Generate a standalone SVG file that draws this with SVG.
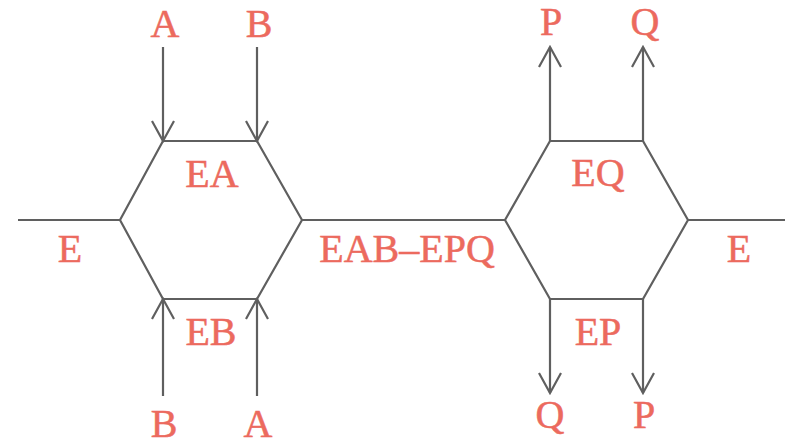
<svg xmlns="http://www.w3.org/2000/svg" width="785" height="446" viewBox="0 0 785 446">
  <style>
    .edge { fill: none; stroke: #5f5f5f; stroke-width: 2.2; stroke-linejoin: round; }
    .arrow { fill: none; stroke: #5f5f5f; stroke-width: 2.2; marker-end: url(#vhead); }
    .lbl { font-family: "Liberation Serif", "DejaVu Serif", serif; font-size: 40px; fill: #ec6a5e; stroke: #ec6a5e; stroke-width: 0.5; text-anchor: middle; }
  </style>
  <defs>
    <marker id="vhead" viewBox="-22 -12 24 24" refX="0" refY="0" markerWidth="24" markerHeight="24" markerUnits="userSpaceOnUse" orient="auto">
      <path d="M -20 -11 L 0 0 L -20 11" fill="none" stroke="#5f5f5f" stroke-width="2.2"/>
    </marker>
  </defs>

  <rect width="785" height="446" fill="#ffffff"/>

  <!-- enzyme cycles -->
  <g id="cycle-binding">
    <polygon class="edge" points="163,141 257,141 302,220 257,299 163,299 120,220"/>
    <text class="lbl" x="212" y="187">EA</text>
    <text class="lbl" x="211" y="345">EB</text>
  </g>
  <g id="cycle-release">
    <polygon class="edge" points="550,141 643,141 688,220 643,299 550,299 505,220"/>
    <text class="lbl" x="598" y="186">EQ</text>
    <text class="lbl" x="598" y="345">EP</text>
  </g>

  <!-- connectors: free enzyme, central complex, substrates and products -->
  <g id="connectors">
    <line class="edge" x1="18" y1="220" x2="120" y2="220"/>
    <line class="edge" x1="302" y1="220" x2="505" y2="220"/>
    <line class="edge" x1="688" y1="220" x2="785" y2="220"/>

    <line class="arrow" x1="163" y1="47" x2="163" y2="141"/>
    <line class="arrow" x1="257" y1="47" x2="257" y2="141"/>
    <line class="arrow" x1="163" y1="396" x2="163" y2="299"/>
    <line class="arrow" x1="257" y1="396" x2="257" y2="299"/>

    <line class="arrow" x1="550" y1="141" x2="550" y2="47"/>
    <line class="arrow" x1="643" y1="141" x2="643" y2="47"/>
    <line class="arrow" x1="550" y1="299" x2="550" y2="393"/>
    <line class="arrow" x1="643" y1="299" x2="643" y2="393"/>
  </g>

  <!-- species labels -->
  <g id="labels">
    <text class="lbl" x="165" y="37">A</text>
    <text class="lbl" x="259" y="37">B</text>
    <text class="lbl" x="164" y="437">B</text>
    <text class="lbl" x="258" y="437">A</text>
    <text class="lbl" x="70" y="262">E</text>
    <text class="lbl" x="407" y="262">EAB–EPQ</text>
    <text class="lbl" x="739" y="262">E</text>
    <text class="lbl" x="551" y="35">P</text>
    <text class="lbl" x="645" y="35">Q</text>
    <text class="lbl" x="550" y="428">Q</text>
    <text class="lbl" x="644" y="428">P</text>
  </g>
</svg>
